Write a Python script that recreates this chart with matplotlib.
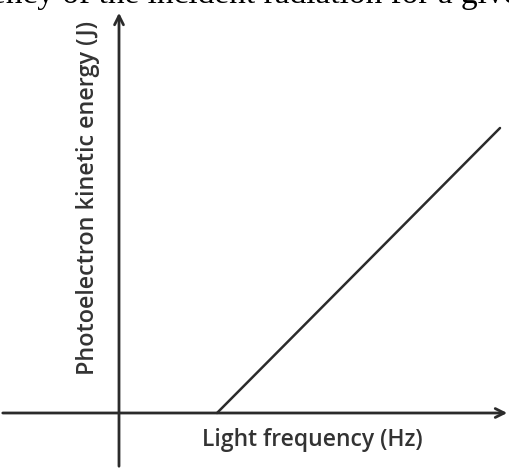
import matplotlib.pyplot as plt

# photoelectric effect: kinetic energy vs light frequency (arbitrary units)
frequency = [98, 381]
energy = [0, 285]

x_label = "Light frequency (Hz)"
y_label = "Photoelectron kinetic energy (J)"
caption = "ency of the incident radiation for a give"

fig = plt.figure(figsize=(5.1, 4.69), dpi=100)
ax = fig.add_axes([0, 0, 1, 1])
ax.set_xlim(-119, 391)
ax.set_ylim(-56, 413)
ax.axis("off")

col = "#2b2b2b"

# axes arrows
ax.annotate("", xy=(391, 0), xytext=(-119, 0),
            arrowprops=dict(arrowstyle="->", color=col, lw=2.0, mutation_scale=16))
ax.annotate("", xy=(0, 403), xytext=(0, -56),
            arrowprops=dict(arrowstyle="->", color=col, lw=2.0, mutation_scale=16))

ax.plot(frequency, energy, color=col, lw=1.8, solid_capstyle="round")

ax.text(193, -27, x_label, ha="center", va="center", fontsize=16.5,
        family="Open Sans", weight="semibold", color="#333333")
ax.text(-31, 38, y_label, ha="center", va="bottom", fontsize=16.8,
        family="Open Sans", weight="semibold", color="#333333", rotation=90)

# caption cut off at top of the picture
fig.text(0.5, 1 - 3 / 469, caption, ha="center", va="baseline", fontsize=24,
         family="Liberation Serif", color="black")

fig.savefig("out.png", dpi=100)
